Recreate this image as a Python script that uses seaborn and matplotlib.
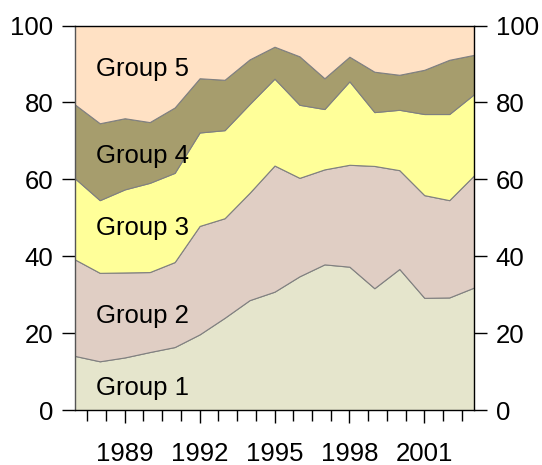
import numpy as np
import pandas as pd
import seaborn as sns
import matplotlib.pyplot as plt

# values (percent share per group)
years = list(range(1987, 2004))
group1 = [14.1, 12.7, 13.7, 15.1, 16.4, 19.7, 24.0, 28.6, 30.8, 34.8, 37.9, 37.3, 31.7, 36.7, 29.2, 29.3, 31.9]
group2 = [25.1, 23.0, 22.1, 20.8, 22.1, 28.2, 25.9, 27.9, 32.8, 25.6, 24.7, 26.5, 31.8, 25.7, 26.7, 25.3, 29.2]
group3 = [21.1, 18.9, 21.6, 23.2, 23.2, 24.3, 22.9, 23.1, 22.6, 19.0, 15.7, 21.7, 14.0, 15.7, 21.1, 22.4, 21.1]
group4 = [19.2, 20.0, 18.5, 15.8, 17.0, 14.1, 13.1, 11.6, 8.3, 12.6, 8.0, 6.4, 10.5, 9.1, 11.5, 14.1, 10.2]
group5 = [20.5, 25.4, 24.1, 25.1, 21.3, 13.7, 14.1, 8.8, 5.5, 8.0, 13.7, 8.1, 12.0, 12.8, 11.5, 8.9, 7.6]
groups = ["Group 1", "Group 2", "Group 3", "Group 4", "Group 5"]
label_y = [5.7, 24.4, 47.3, 66.2, 88.8]
colors = ["#E5E5CC", "#E0CEC4", "#FFFF99", "#A69D6D", "#FFE1C4"]

df = pd.DataFrame({"year": years, "Group 1": group1, "Group 2": group2,
                   "Group 3": group3, "Group 4": group4, "Group 5": group5})

sns.set_style("ticks")
plt.rcParams["font.family"] = ["Liberation Sans", "DejaVu Sans"]

fig = plt.figure(figsize=(5.42, 4.65), dpi=100)
ax = fig.add_axes([0.138, 0.118, 0.737, 0.827])

ax.stackplot(df["year"], [df[g] for g in groups], colors=colors,
             edgecolor="#808080", linewidth=0.8)

for g, y in zip(groups, label_y):
    ax.text(1987.85, y, g, fontsize=18.5, va="center", ha="left", color="black")

ax.set_xlim(1987, 2003)
ax.set_ylim(0, 100)
ax.set_yticks([0, 20, 40, 60, 80, 100])
ax.set_xticks([1989, 1992, 1995, 1998, 2001])
minor = [t for t in np.arange(1987.5, 2003, 0.75) if t not in (1989, 1992, 1995, 1998, 2001)]
ax.set_xticks(minor, minor=True)

ax.tick_params(axis="y", which="both", left=True, right=True, labelleft=True,
               labelright=True, length=9.4, width=1, labelsize=18.5, pad=6,
               colors="black", labelcolor="black")
ax.tick_params(axis="x", which="major", length=9, width=1, labelsize=18.5, pad=14,
               colors="black", labelcolor="black")
ax.tick_params(axis="x", which="minor", length=7.7, width=1, colors="black")

for s in ax.spines.values():
    s.set_visible(True)
    s.set_color("black")
    s.set_linewidth(1)
ax.spines["left"].set_color("#555555")

fig.savefig("out.png", dpi=100)
